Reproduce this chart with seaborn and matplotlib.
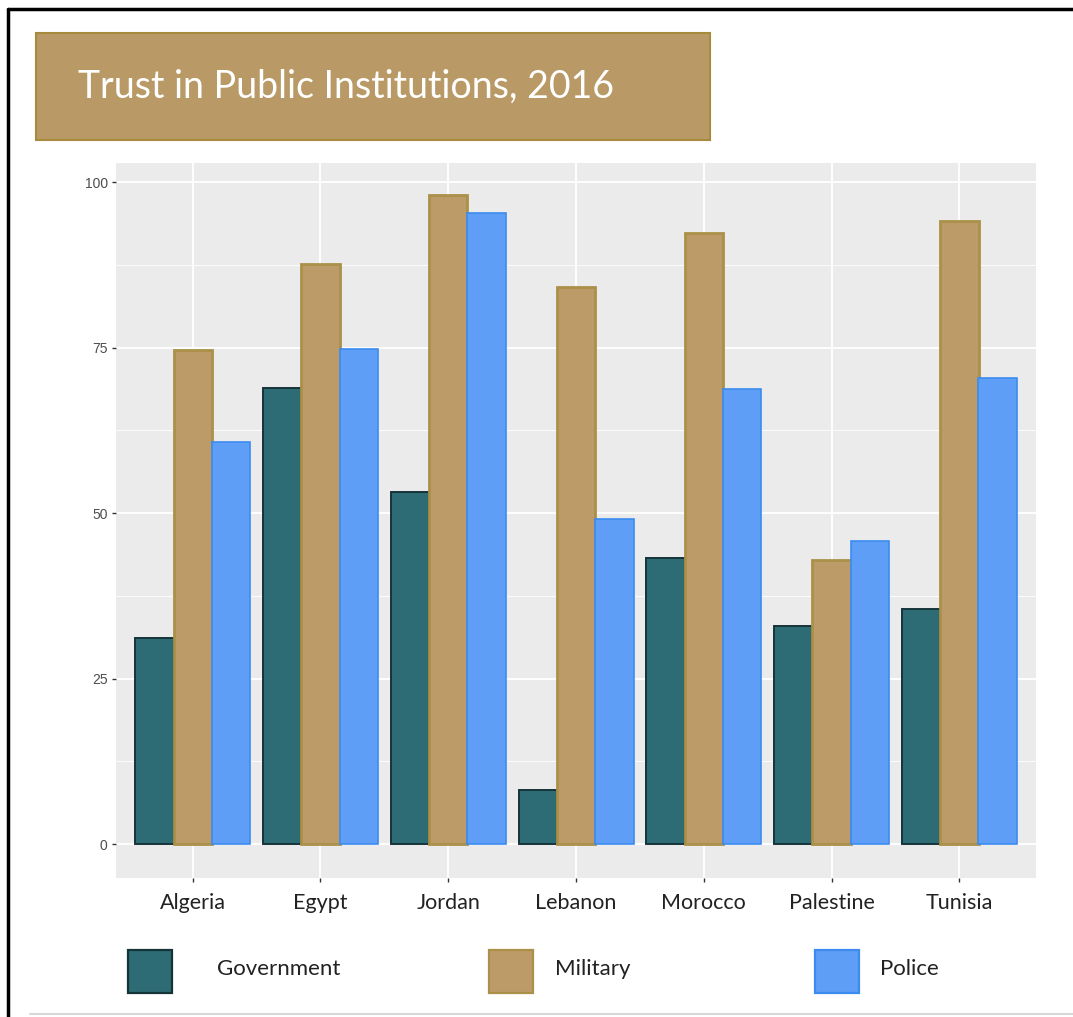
import matplotlib
matplotlib.use("Agg")
import matplotlib.pyplot as plt
import seaborn as sns
import pandas as pd
from matplotlib.patches import Rectangle
from matplotlib.lines import Line2D

# Share of respondents trusting each institution (%)
countries = ["Algeria", "Egypt", "Jordan", "Lebanon", "Morocco", "Palestine", "Tunisia"]
government = [31.1, 68.9, 53.2, 8.2, 43.2, 32.9, 35.5]
military = [74.6, 87.7, 98.0, 84.1, 92.4, 42.9, 94.1]
police = [60.8, 74.8, 95.3, 49.1, 68.7, 45.8, 70.4]
institutions = ["Government", "Military", "Police"]
y_ticks = [0, 25, 50, 75, 100]
title = "Trust in Public Institutions, 2016"

fill_colors = {"Government": "#2d6c74", "Military": "#bd9b69", "Police": "#5f9ef6"}
edge_colors = {"Government": "#15343a", "Military": "#aa9048", "Police": "#3b8bf0"}
edge_widths = {"Government": 1.4, "Military": 2.0, "Police": 1.2}

df = pd.DataFrame({
    "country": countries * 3,
    "institution": [n for n in institutions for _ in countries],
    "trust": government + military + police,
})

sns.set_theme(style="darkgrid", rc={
    "axes.facecolor": "#ebebeb",
    "grid.color": "white",
})

W, H = 1073, 1017
fig = plt.figure(figsize=(W / 100, H / 100), dpi=100)
fig.patch.set_facecolor("white")


def box(x0, y0, x1, y1):
    """Pixel box (top-left origin) -> figure fraction rect."""
    return [x0 / W, 1 - y1 / H, (x1 - x0) / W, (y1 - y0) / H]


ax = fig.add_axes(box(116, 163, 1036, 878))
sns.barplot(data=df, x="country", y="trust", hue="institution",
            hue_order=institutions, order=countries, palette=fill_colors,
            width=0.9, saturation=1, errorbar=None, legend=False, ax=ax)

for container, name in zip(ax.containers, institutions):
    for patch in container:
        patch.set_edgecolor(edge_colors[name])
        patch.set_linewidth(edge_widths[name])

ax.set_xlim(-0.6, 6.6)
ax.set_ylim(-5.1, 102.9)
ax.set_yticks(y_ticks)
ax.set_yticklabels([str(v) for v in y_ticks])
ax.set_yticks([12.5, 37.5, 62.5, 87.5], minor=True)
ax.grid(which="major", color="white", linewidth=1.3)
ax.grid(which="minor", axis="y", color="white", linewidth=0.6)
ax.set_axisbelow(True)
for s in ax.spines.values():
    s.set_visible(False)
ax.set_xlabel("")
ax.set_ylabel("")

ax.tick_params(axis="y", which="major", length=3, width=1, color="#333333",
               labelcolor="#4d4d4d", labelsize=10, pad=3, left=True)
ax.tick_params(axis="y", which="minor", length=0)
ax.tick_params(axis="x", length=3, width=1, color="#333333",
               labelcolor="#222222", labelsize=15.5, pad=8, bottom=True)
for lab in ax.get_yticklabels():
    lab.set_family("Liberation Sans")
for lab in ax.get_xticklabels():
    lab.set_family("Lato")

# Title banner
fig.add_artist(Rectangle((36 / W, 1 - 140 / H), (710 - 36) / W, (140 - 33) / H,
                         transform=fig.transFigure, facecolor="#b99a66",
                         edgecolor="#a88a3c", linewidth=1.5))
fig.text(78 / W, 1 - 87 / H, title, color="white", fontsize=27,
         family="Lato", va="center", ha="left")

# Legend keys along the bottom
legend_layout = [("Government", 128, 217), ("Military", 489, 555), ("Police", 815, 880)]
for name, sq_x, tx in legend_layout:
    fig.add_artist(Rectangle((sq_x / W, 1 - 993 / H), 44 / W, 43 / H,
                             transform=fig.transFigure,
                             facecolor=fill_colors[name],
                             edgecolor=edge_colors[name], linewidth=1.6))
    fig.text(tx / W, 1 - 969 / H, name, fontsize=16, family="Lato",
             color="#222222", va="center", ha="left")

# Frame lines
fig.add_artist(Line2D([8 / W, 1.0], [1 - 9 / H, 1 - 9 / H],
                      transform=fig.transFigure, color="black", linewidth=2.5))
fig.add_artist(Line2D([8 / W, 8 / W], [0.0, 1 - 9 / H],
                      transform=fig.transFigure, color="black", linewidth=2.5))
fig.add_artist(Line2D([30 / W, 1.0], [1 - 1014 / H, 1 - 1014 / H],
                      transform=fig.transFigure, color="#d8d8d8", linewidth=1.5))

fig.savefig("out.png", dpi=100)
